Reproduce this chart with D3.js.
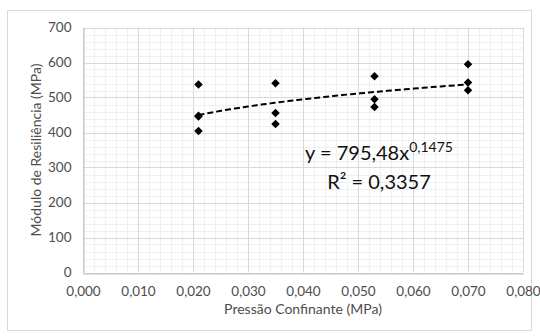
<!DOCTYPE html>
<html>
<head>
<meta charset="utf-8">
<script src="https://cdn.jsdelivr.net/npm/d3@7"></script>
<style>
  html, body { margin: 0; padding: 0; background: #fff; }
  svg { display: block; font-family: Lato, "Open Sans", sans-serif; }
</style>
</head>
<body>
<svg id="chart" width="540" height="336"></svg>
<script>
// Confining pressure (MPa) for each test, and the measured resilient modulus (MPa)
const pressure = [0.021, 0.021, 0.021, 0.021, 0.035, 0.035, 0.035, 0.053, 0.053, 0.053, 0.070, 0.070, 0.070];
const modulus  = [537, 448, 446, 404, 541, 456, 424, 561, 495, 473, 595, 543, 521];

// Power-law fit  y = a * x^b
const fitA = 795.48;
const fitB = 0.1475;
const fitR2 = "0,3357";
const fitRange = [0.021, 0.070];

const xTicks = [0, 0.01, 0.02, 0.03, 0.04, 0.05, 0.06, 0.07, 0.08];
const yTicks = [0, 100, 200, 300, 400, 500, 600, 700];
const xTitle = "Pressão Confinante (MPa)";
const yTitle = "Módulo de Resiliência (MPa)";

const svg = d3.select("#chart");
const plot = { left: 83, right: 523, top: 27.5, bottom: 272.5 };

const x = d3.scaleLinear().domain([0, 0.08]).range([plot.left, plot.right]);
const y = d3.scaleLinear().domain([0, 700]).range([plot.bottom, plot.top]);
const fmtX = v => d3.format(".3f")(v).replace(".", ",");

// Chart frame
svg.append("rect")
  .attr("x", 7.5).attr("y", 10.5).attr("width", 524).attr("height", 320)
  .attr("fill", "#fff").attr("stroke", "#d9d9d9").attr("stroke-width", 1);

// Minor gridlines
const g = svg.append("g");
const xMinor = d3.range(0, 0.0801, 0.002);
const yMinor = d3.range(0, 701, 20);
g.selectAll("line.xm").data(xMinor).join("line")
  .attr("x1", d => Math.round(x(d)) + 0.5).attr("x2", d => Math.round(x(d)) + 0.5)
  .attr("y1", plot.top).attr("y2", plot.bottom)
  .attr("stroke", "#f0f0f0");
g.selectAll("line.ym").data(yMinor).join("line")
  .attr("y1", d => Math.round(y(d)) + 0.5).attr("y2", d => Math.round(y(d)) + 0.5)
  .attr("x1", plot.left).attr("x2", plot.right)
  .attr("stroke", "#f0f0f0");

// Major gridlines
g.selectAll("line.xM").data(xTicks).join("line")
  .attr("x1", d => Math.round(x(d)) + 0.5).attr("x2", d => Math.round(x(d)) + 0.5)
  .attr("y1", plot.top).attr("y2", plot.bottom)
  .attr("stroke", "#d9d9d9");
g.selectAll("line.yM").data(yTicks).join("line")
  .attr("y1", d => Math.round(y(d)) + 0.5).attr("y2", d => Math.round(y(d)) + 0.5)
  .attr("x1", plot.left).attr("x2", plot.right)
  .attr("stroke", "#d9d9d9");

// Axes
const xAxis = svg.append("g")
  .attr("transform", `translate(0,${Math.round(y(0)) + 0.5})`)
  .call(d3.axisBottom(x).tickValues(xTicks).tickFormat(fmtX).tickSize(0).tickPadding(13));
const yAxis = svg.append("g")
  .attr("transform", `translate(${Math.round(x(0)) + 0.5},0)`)
  .call(d3.axisLeft(y).tickValues(yTicks).tickSize(0).tickPadding(12));
[xAxis, yAxis].forEach(a => {
  a.select(".domain").attr("stroke", "#bfbfbf");
  a.selectAll("text").attr("fill", "#4d4d4d").style("font-size", "13.5px")
    .style("font-family", "Lato, 'Open Sans', sans-serif");
});

// Axis titles
svg.append("text")
  .attr("x", (plot.left + plot.right) / 2).attr("y", 314)
  .attr("text-anchor", "middle").attr("fill", "#4d4d4d").style("font-size", "14px")
  .text(xTitle);
svg.append("text")
  .attr("transform", `translate(41,${(plot.top + plot.bottom) / 2}) rotate(-90)`)
  .attr("text-anchor", "middle").attr("fill", "#4d4d4d").style("font-size", "14px")
  .text(yTitle);

// Trend line
const fitX = d3.range(fitRange[0], fitRange[1] + 1e-9, (fitRange[1] - fitRange[0]) / 60);
const line = d3.line().x(d => x(d)).y(d => y(fitA * Math.pow(d, fitB)));
svg.append("path")
  .datum(fitX)
  .attr("d", line)
  .attr("fill", "none").attr("stroke", "#000").attr("stroke-width", 2)
  .attr("stroke-dasharray", "6,3");

// Data points
const diamond = d3.symbol().type(d3.symbolSquare).size(36);
svg.append("g").selectAll("path").data(pressure).join("path")
  .attr("d", diamond)
  .attr("transform", (d, i) => `translate(${x(d)},${y(modulus[i])}) rotate(45)`)
  .attr("fill", "#000");

// Equation label
const eq = svg.append("text")
  .attr("x", 379).attr("y", 160).attr("text-anchor", "middle")
  .attr("fill", "#111").style("font-size", "20px");
eq.append("tspan").text("y = 795,48x");
eq.append("tspan").attr("dy", -8).style("font-size", "14px").text("0,1475");
svg.append("text")
  .attr("x", 379).attr("y", 189).attr("text-anchor", "middle")
  .attr("fill", "#111").style("font-size", "20px")
  .text("R² = " + fitR2);
</script>
</body>
</html>
